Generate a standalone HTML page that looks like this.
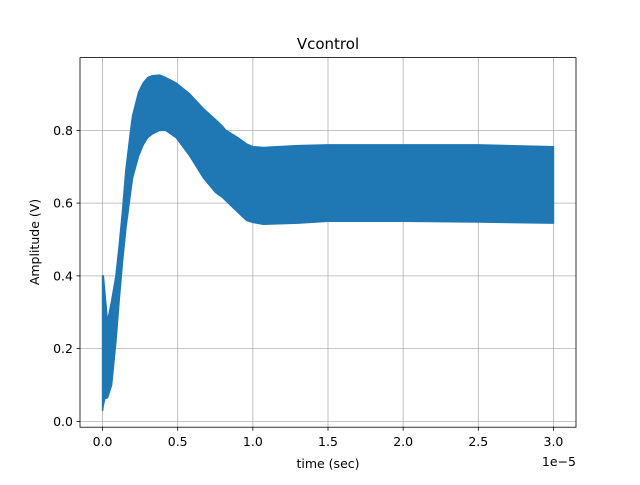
<!DOCTYPE html>
<html><head><meta charset="utf-8"><style>
body{margin:0;background:#fff}
svg text{font-family:"DejaVu Sans","Liberation Sans",sans-serif;fill:#000}
</style></head><body>
<svg id="chart" width="640" height="480" viewBox="0 0 640 480">
<rect width="640" height="480" fill="#fff"/>
<g id="grid"></g>
<g id="series"></g>
<rect x="80" y="57.6" width="496" height="369.6" fill="none" stroke="#000" stroke-width="0.8"/>
<g id="ticks"></g>
<text x="328" y="49" font-size="15" text-anchor="middle">Vcontrol</text>
<text x="328" y="468" font-size="12.5" text-anchor="middle">time (sec)</text>
<text transform="translate(39,242) rotate(-90)" font-size="12.5" text-anchor="middle">Amplitude (V)</text>
<text x="576" y="466" font-size="12.5" text-anchor="end">1e−5</text>
</svg>
<script>
const tTimes=[0,0.005,0.016,0.033,0.06,0.089,0.11,0.133,0.155,0.19,0.2,0.24,0.27,0.3,0.33,0.38,0.42,0.49,0.58,0.67,0.75,0.8,0.82,0.9,0.96,1.0,1.07,1.3,1.5,2.0,2.5,3.0];
const upperV=[0.40,0.40,0.35,0.273,0.33,0.40,0.48,0.58,0.69,0.81,0.84,0.905,0.93,0.945,0.95,0.952,0.945,0.93,0.90,0.86,0.83,0.81,0.80,0.78,0.762,0.755,0.753,0.758,0.76,0.76,0.76,0.755];
const lowerV=[0.03,0.045,0.063,0.065,0.10,0.22,0.33,0.44,0.53,0.64,0.67,0.73,0.76,0.78,0.79,0.80,0.80,0.78,0.73,0.67,0.63,0.615,0.607,0.575,0.552,0.547,0.542,0.545,0.55,0.55,0.548,0.545];
const xTicks=[0,0.5,1.0,1.5,2.0,2.5,3.0];
const xTickLabels=["0.0","0.5","1.0","1.5","2.0","2.5","3.0"];
const yTicks=[0,0.2,0.4,0.6,0.8];
const yTickLabels=["0.0","0.2","0.4","0.6","0.8"];
const X0=-0.15,X1=3.15,Y0=-0.016,Y1=1.0;
const xs=v=>80+(v-X0)/(X1-X0)*496;
const ys=v=>427.2-(v-Y0)/(Y1-Y0)*369.6;
const NS="http://www.w3.org/2000/svg";
const grid=document.getElementById('grid'),ticks=document.getElementById('ticks'),ser=document.getElementById('series');
function mk(tag,attrs,parent){const e=document.createElementNS(NS,tag);for(const k in attrs)e.setAttribute(k,attrs[k]);parent.appendChild(e);return e;}
xTicks.forEach((v,i)=>{const x=xs(v);
 const g=mk('line',{x1:x,x2:x,y1:57.6,y2:427.2,stroke:'#b0b0b0','stroke-width':0.8},grid);
 
 
 const t=mk('line',{x1:x,x2:x,y1:427.2,y2:430.7,stroke:'#000','stroke-width':0.8},ticks);
 
 
 const l=mk('text',{x:x,y:446,'font-size':12.5,'text-anchor':'middle'},ticks);l.textContent=xTickLabels[i];
 
 
});
yTicks.forEach((v,i)=>{const y=ys(v);
 const g=mk('line',{x1:80,x2:576,y1:y,y2:y,stroke:'#b0b0b0','stroke-width':0.8},grid);
 
 
 const t=mk('line',{x1:76.5,x2:80,y1:y,y2:y,stroke:'#000','stroke-width':0.8},ticks);
 
 
 const l=mk('text',{x:73,y:y+4.5,'font-size':12.5,'text-anchor':'end'},ticks);l.textContent=yTickLabels[i];
 
 
});
let d='';
tTimes.forEach((t,i)=>{d+=(i?'L':'M')+xs(t).toFixed(2)+','+ys(upperV[i]).toFixed(2);});
for(let i=tTimes.length-1;i>=0;i--){d+='L'+xs(tTimes[i]).toFixed(2)+','+ys(lowerV[i]).toFixed(2);}
d+='Z';
const p=mk('path',{d:d,fill:'#1f77b4',stroke:'#1f77b4','stroke-width':1.5,'stroke-linejoin':'round'},ser);


</script>
</body></html>
